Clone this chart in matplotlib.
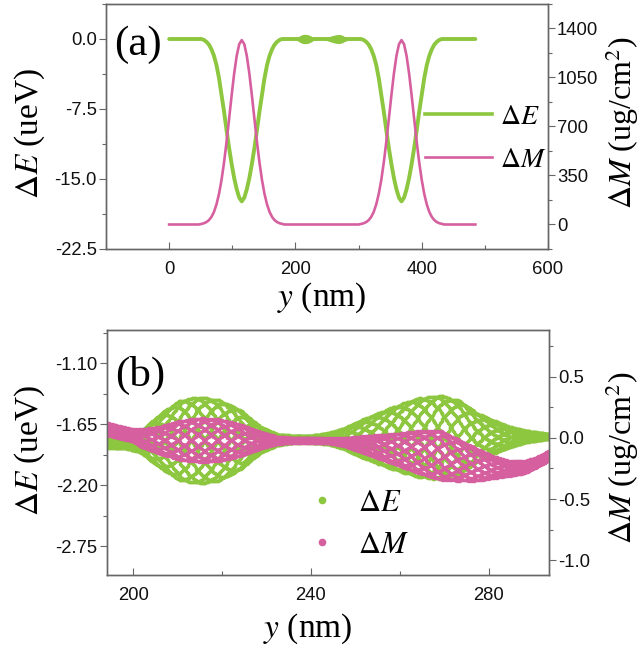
import numpy as np
import matplotlib
matplotlib.use("Agg")
import matplotlib.pyplot as plt
from matplotlib.ticker import MultipleLocator, FormatStrFormatter
from matplotlib.lines import Line2D

plt.rcParams['font.family'] = ['Liberation Sans', 'DejaVu Sans']
plt.rcParams['mathtext.fontset'] = 'stix'
plt.rcParams['axes.unicode_minus'] = False

# ---------------- Panel (a) data ----------------
y_a = [0, 15, 30, 43,
       47, 51, 55, 59, 63, 67, 71, 75, 79, 83, 87, 91, 95, 99, 103, 107, 111, 115,
       119, 123, 127, 131, 135, 139, 143, 147, 151, 155, 159, 163, 167, 171, 175, 179, 183,
       190, 200, 215, 230, 245, 260, 275, 290,
       300, 304, 308, 312, 316, 320, 324, 328, 332, 336, 340, 344, 348, 352, 356, 360, 364, 368,
       372, 376, 380, 384, 388, 392, 396, 400, 404, 408, 412, 416, 420, 424, 428, 432, 436,
       445, 460, 475, 485]
dE_a = [0.0, 0.0, 0.0, 0.0,
        0.0, 0.0, -0.1, -0.3, -0.6, -1.1, -1.8, -2.8, -4.2, -6.0, -7.8, -9.8, -11.7, -13.4, -14.9, -16.1, -17.0, -17.4,
        -17.0, -16.1, -14.9, -13.4, -11.7, -9.8, -7.8, -6.0, -4.2, -2.8, -1.8, -1.1, -0.6, -0.3, -0.1, 0.0, 0.0,
        0.0, 0.0, 0.0, 0.0, 0.0, 0.0, 0.0, 0.0,
        0.0, 0.0, -0.1, -0.3, -0.6, -1.1, -1.8, -2.8, -4.2, -6.0, -7.8, -9.8, -11.7, -13.4, -14.9, -16.1, -17.0, -17.4,
        -17.0, -16.1, -14.9, -13.4, -11.7, -9.8, -7.8, -6.0, -4.2, -2.8, -1.8, -1.1, -0.6, -0.3, -0.1, 0.0, 0.0,
        0.0, 0.0, 0.0, 0.0]
dM_a = [0, 0, 0, 0,
        0, 4, 9, 17, 31, 54, 90, 144, 219, 319, 445, 593, 757, 924, 1079, 1205, 1288, 1317,
        1288, 1205, 1079, 924, 757, 593, 445, 319, 219, 144, 90, 54, 31, 17, 9, 4, 0,
        0, 0, 0, 0, 0, 0, 0, 0,
        0, 4, 9, 17, 31, 54, 90, 144, 219, 319, 445, 593, 757, 924, 1079, 1205, 1288, 1317,
        1288, 1205, 1079, 924, 757, 593, 445, 319, 219, 144, 90, 54, 31, 17, 9, 4, 0,
        0, 0, 0, 0]

# ---------------- Panel (b) data (centre and oscillation envelope) ----------------
yb_E = [194, 198, 201.5, 206, 210.5, 215, 219.5, 224, 228.5, 232.3, 236, 240, 244,
        247.3, 251, 258.5, 263.8, 269, 273.5, 277.3, 281, 284.8, 288.5, 293.6]
cE_b = [-1.82, -1.815, -1.81, -1.80, -1.795, -1.795, -1.795, -1.79, -1.79, -1.79, -1.785, -1.785, -1.78,
        -1.78, -1.78, -1.775, -1.77, -1.77, -1.77, -1.77, -1.765, -1.765, -1.76, -1.76]
aE_b = [0.04, 0.05, 0.09, 0.24, 0.36, 0.39, 0.36, 0.27, 0.12, 0.05, 0.03, 0.03, 0.05,
        0.09, 0.16, 0.28, 0.35, 0.38, 0.33, 0.22, 0.15, 0.09, 0.05, 0.02]

yb_M = [194, 197, 200, 201.5, 206, 210.5, 215, 219.5, 224, 228.5, 232.3, 236, 240, 244,
        247.3, 252, 258.5, 264, 269, 273, 277.3, 281, 284.8, 288, 290.8, 293.6]
cM_b = [0.074, 0.045, 0.02, 0.0, -0.02, -0.02, -0.02, -0.02, -0.02, -0.02, -0.02, -0.02, -0.02, -0.025,
        -0.035, -0.055, -0.09, -0.115, -0.14, -0.18, -0.22, -0.24, -0.25, -0.24, -0.2, -0.145]
aM_b = [0.05, 0.05, 0.05, 0.07, 0.11, 0.16, 0.18, 0.17, 0.13, 0.07, 0.03, 0.02, 0.02, 0.02,
        0.03, 0.07, 0.12, 0.17, 0.20, 0.17, 0.13, 0.09, 0.06, 0.05, 0.04, 0.04]

GREEN = '#8DC63F'
PINK = '#D6609F'
SPINE = '#666666'
SERIF = ['Liberation Serif', 'DejaVu Serif']

W, H = 643, 647
fig = plt.figure(figsize=(W / 100, H / 100), dpi=100)

axa = fig.add_axes([106 / W, 1 - 249 / H, 442 / W, 245 / H])
axa2 = axa.twinx()
axb = fig.add_axes([106.7 / W, 1 - 575 / H, 442.3 / W, 245 / H])
axb2 = axb.twinx()

# ---- panel (a) ----
yE_env = np.linspace(min(yb_E), max(yb_E), 400)
env = np.interp(yE_env, yb_E, aE_b) * 1.3
axa.fill_between(yE_env, -env, env, color=GREEN, lw=0)
axa.plot(y_a, dE_a, color=GREEN, lw=2.8, solid_capstyle='round')
axa2.plot(y_a, dM_a, color=PINK, lw=1.9)

axa.set_xlim(-100, 600)
axa.set_ylim(-22.5, 3.75)
axa2.set_ylim(-175, 1575)
axa.xaxis.set_major_locator(MultipleLocator(200))
axa.xaxis.set_minor_locator(MultipleLocator(100))
axa.yaxis.set_major_locator(MultipleLocator(7.5))
axa.yaxis.set_minor_locator(MultipleLocator(3.75))
axa.yaxis.set_major_formatter(FormatStrFormatter('%.1f'))
axa2.yaxis.set_major_locator(MultipleLocator(350))
axa2.yaxis.set_minor_locator(MultipleLocator(175))

# ---- panel (b) ----
N_PHASE = 12
WAVE = 36.0
xs_E = np.arange(min(yb_E), max(yb_E), 0.2)
cE_i = np.interp(xs_E, yb_E, cE_b)
aE_i = np.interp(xs_E, yb_E, aE_b)
xs_M = np.arange(min(yb_M), max(yb_M), 0.2)
cM_i = np.interp(xs_M, yb_M, cM_b)
aM_i = np.interp(xs_M, yb_M, aM_b)
for j in range(N_PHASE):
    ph = 2 * np.pi * j / N_PHASE
    axb.plot(xs_E, cE_i + aE_i * np.cos(2 * np.pi * xs_E / WAVE + ph), 'o',
             color=GREEN, ms=2.6, mew=0)
    axb2.plot(xs_M, cM_i + aM_i * np.cos(2 * np.pi * xs_M / WAVE + ph), 'o',
              color=PINK, ms=2.4, mew=0)

axb.set_xlim(194, 293.6)
axb.set_ylim(-3.01, -0.80)
axb2.set_ylim(-1.12, 0.88)
axb.xaxis.set_major_locator(MultipleLocator(40))
axb.xaxis.set_minor_locator(MultipleLocator(20))
axb.set_yticks([-1.10, -1.65, -2.20, -2.75])
axb.yaxis.set_minor_locator(MultipleLocator(0.275))
axb.yaxis.set_major_formatter(FormatStrFormatter('%.2f'))
axb2.yaxis.set_major_locator(MultipleLocator(0.5))
axb2.yaxis.set_minor_locator(MultipleLocator(0.25))
axb2.yaxis.set_major_formatter(FormatStrFormatter('%.1f'))

# ---- styling ----
TICK_FS = 13.3
for ax in (axa, axb, axa2, axb2):
    for sp in ax.spines.values():
        sp.set_color(SPINE)
        sp.set_linewidth(1.0)
for ax in (axa, axb):
    ax.tick_params(axis='x', which='both', direction='in', color=SPINE, width=0.8,
                   labelsize=TICK_FS, pad=9, labelcolor='#111111')
    ax.tick_params(axis='x', which='major', length=5)
    ax.tick_params(axis='x', which='minor', length=3)
    ax.tick_params(axis='y', which='both', direction='out', color=SPINE, width=0.8,
                   labelsize=TICK_FS, pad=1.5, labelcolor='#111111')
    ax.tick_params(axis='y', which='major', length=5)
    ax.tick_params(axis='y', which='minor', length=3)
for ax in (axa2, axb2):
    ax.tick_params(axis='y', which='both', direction='out', color=SPINE, width=0.8,
                   labelsize=TICK_FS, pad=1.5, labelcolor='#111111')
    ax.tick_params(axis='y', which='major', length=5)
    ax.tick_params(axis='y', which='minor', length=3)

LAB_FS = 24
axa.set_ylabel(r'$\Delta E$ (ueV)', family=SERIF, fontsize=LAB_FS, va='center')
axa.yaxis.set_label_coords(-0.172, 0.473)
axa2.set_ylabel(r'$\Delta M$ (ug/cm$^2$)', family=SERIF, fontsize=23, rotation=90, va='center')
axa2.yaxis.set_label_coords(1.168, 0.514)
axa.set_xlabel(r'$y$ (nm)', family=SERIF, fontsize=LAB_FS, va='center')
axa.xaxis.set_label_coords(0.489, -0.20)

axb.set_ylabel(r'$\Delta E$ (ueV)', family=SERIF, fontsize=LAB_FS, va='center')
axb.yaxis.set_label_coords(-0.173, 0.51)
axb2.set_ylabel(r'$\Delta M$ (ug/cm$^2$)', family=SERIF, fontsize=23, rotation=90, va='center')
axb2.yaxis.set_label_coords(1.166, 0.478)
axb.set_xlabel(r'$y$ (nm)', family=SERIF, fontsize=LAB_FS, va='center')
axb.xaxis.set_label_coords(0.454, -0.22)

axa.text(0.072, 0.833, '(a)', transform=axa.transAxes, family=SERIF, fontsize=31,
         ha='center', va='center')
axb.text(0.075, 0.816, '(b)', transform=axb.transAxes, family=SERIF, fontsize=31,
         ha='center', va='center')

# ---- legends ----
ha_handles = [Line2D([], [], color=GREEN, lw=2.6), Line2D([], [], color=PINK, lw=1.9)]
axa2.legend(ha_handles, [r'$\Delta E$', r'$\Delta M$'], loc='center left',
            bbox_to_anchor=(425 / W, 1 - 138.5 / H), bbox_transform=fig.transFigure,
            frameon=False, prop={'family': SERIF, 'size': 20}, handlelength=2.4,
            handletextpad=0.3, labelspacing=0.62, borderpad=0, borderaxespad=0)

hb_handles = [Line2D([], [], color=GREEN, marker='o', ls='none', ms=5.5, mew=0),
              Line2D([], [], color=PINK, marker='o', ls='none', ms=5.5, mew=0)]
axb2.legend(hb_handles, [r'$\Delta E$', r'$\Delta M$'], loc='center left',
            bbox_to_anchor=(306.4 / W, 1 - 524.5 / H), bbox_transform=fig.transFigure,
            frameon=False, prop={'family': SERIF, 'size': 22}, handlelength=1.0,
            handletextpad=0.69, labelspacing=0.42, borderpad=0, borderaxespad=0)

fig.savefig('out.png', dpi=100)
